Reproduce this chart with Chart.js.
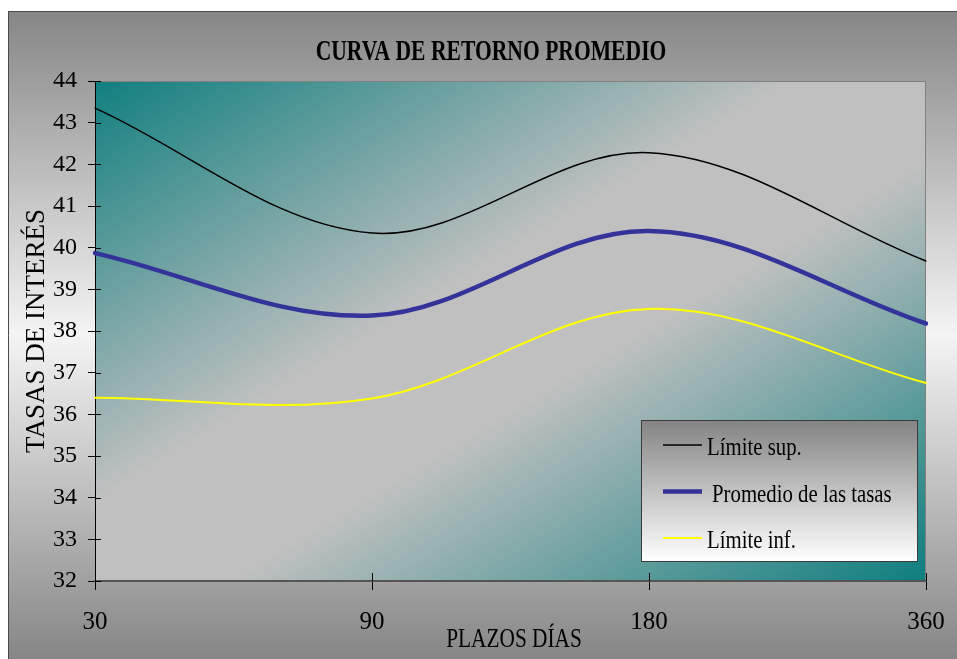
<!DOCTYPE html>
<html lang="es">
<head>
<meta charset="utf-8">
<title>Curva de retorno promedio</title>
<script src="https://cdn.jsdelivr.net/npm/chart.js@4.4.1/dist/chart.umd.min.js"></script>
<style>
  html, body { margin: 0; padding: 0; background: #fff; }
  canvas { display: block; }
</style>
</head>
<body>
<canvas id="curvaChart" width="957" height="659"></canvas>
<script>
// valores
const plazos = ['30', '90', '180', '360'];
const limiteSup = [43.35, 40.35, 42.28, 39.68];
const promedio = [39.87, 38.37, 40.4, 38.18];
const limiteInf = [36.4, 36.38, 38.53, 36.75];
const ticksY = { min: 32, max: 44, paso: 1 };

const SERIF = '"Liberation Serif", "Times New Roman", serif';

// fondo del marco y del área de trazado
const fondo = {
    id: 'fondo',
    beforeDraw(chart) {
        const { ctx, width, height, chartArea: a } = chart;
        ctx.save();
        ctx.fillStyle = '#fff';
        ctx.fillRect(0, 0, width, height);
        const g = ctx.createLinearGradient(0, 11, 0, height);
        g.addColorStop(0, '#868686');
        g.addColorStop(0.5, '#f4f4f4');
        g.addColorStop(1, '#868686');
        ctx.fillStyle = g;
        ctx.fillRect(8, 11, width - 8, height - 11);
        ctx.strokeStyle = '#4a4a4a';
        ctx.lineWidth = 1;
        ctx.beginPath();
        ctx.moveTo(8.5, height);
        ctx.lineTo(8.5, 11.5);
        ctx.lineTo(width, 11.5);
        ctx.stroke();

        ctx.save();
        ctx.translate(a.left, a.top);
        ctx.scale(a.right - a.left, a.bottom - a.top);
        const d = ctx.createLinearGradient(0, 0, 1, 1);
        d.addColorStop(0, '#117f7f');
        d.addColorStop(0.42, '#c0c0c0');
        d.addColorStop(0.58, '#c0c0c0');
        d.addColorStop(1, '#0e7e7e');
        ctx.fillStyle = d;
        ctx.fillRect(0, 0, 1, 1);
        ctx.restore();

        ctx.strokeStyle = '#808080';
        ctx.strokeRect(a.left + 0.5, a.top + 0.5, a.right - a.left - 1, a.bottom - a.top);
        ctx.restore();
    },
    beforeDatasetsDraw(chart) {
        // marcas de graduación hacia dentro
        const { ctx, chartArea: a, scales: { x, y } } = chart;
        ctx.save();
        ctx.strokeStyle = '#000';
        ctx.lineWidth = 1;
        ctx.beginPath();
        y.ticks.forEach((t, i) => {
            const py = Math.round(y.getPixelForTick(i)) + 0.5;
            ctx.moveTo(a.left, py);
            ctx.lineTo(a.left + 6, py);
        });
        x.ticks.forEach((t, i) => {
            const px = Math.round(x.getPixelForTick(i)) + 0.5;
            ctx.moveTo(px, a.bottom);
            ctx.lineTo(px, a.bottom - 8);
        });
        ctx.stroke();
        ctx.restore();
    }
};

// textos condensados (título y eje X) y leyenda con recuadro
const textos = {
    id: 'textos',
    afterDraw(chart) {
        const { ctx, chartArea: a } = chart;
        ctx.save();
        ctx.fillStyle = '#000';
        ctx.textBaseline = 'alphabetic';
        ctx.textAlign = 'center';

        ctx.save();
        ctx.translate(491, 60);
        ctx.scale(0.72, 1);
        ctx.font = 'bold 30px ' + SERIF;
        ctx.fillText('CURVA DE RETORNO PROMEDIO', 0, 0);
        ctx.restore();

        ctx.save();
        ctx.translate(514, 647);
        ctx.scale(0.79, 1);
        ctx.font = '27px ' + SERIF;
        ctx.fillText('PLAZOS DÍAS', 0, 0);
        ctx.restore();

        // leyenda
        const bw = 276, bh = 141;
        const bx = a.right - 9 - bw, by = a.bottom - 20 - bh;
        const lg = ctx.createLinearGradient(0, by, 0, by + bh);
        lg.addColorStop(0, '#838383');
        lg.addColorStop(1, '#ffffff');
        ctx.fillStyle = lg;
        ctx.fillRect(bx, by, bw, bh);
        ctx.strokeStyle = '#3c3c3c';
        ctx.lineWidth = 1;
        ctx.strokeRect(bx + 0.5, by + 0.5, bw, bh);

        ctx.textAlign = 'left';
        chart.data.datasets.forEach((ds, i) => {
            const ly = by + 25 + i * 46.5;
            ctx.strokeStyle = ds.borderColor;
            ctx.lineWidth = ds.borderWidth;
            ctx.beginPath();
            ctx.moveTo(bx + 22, ly);
            ctx.lineTo(bx + 61, ly);
            ctx.stroke();
            ctx.save();
            ctx.translate(bx + 66 + (ds.borderWidth > 3 ? 5 : 0), ly + 10);
            ctx.scale(0.8, 1);
            ctx.fillStyle = '#000';
            ctx.font = '26px ' + SERIF;
            ctx.fillText(ds.label, 0, 0);
            ctx.restore();
        });
        ctx.restore();
    }
};

const ctx = document.getElementById('curvaChart').getContext('2d');
new Chart(ctx, {
    type: 'line',
    data: {
        labels: plazos,
        datasets: [
            { label: 'Límite sup.', data: limiteSup, borderColor: '#000000', borderWidth: 1.5 },
            { label: 'Promedio de las tasas', data: promedio, borderColor: '#333399', borderWidth: 4.5 },
            { label: 'Límite inf.', data: limiteInf, borderColor: '#ffff00', borderWidth: 2 }
        ]
    },
    options: {
        responsive: false,
        animation: false,
        layout: { padding: { top: 81, right: 31, left: 0, bottom: 0 } },
        elements: {
            point: { radius: 0, hoverRadius: 0 },
            line: { tension: 0.35, fill: false, borderCapStyle: 'round' }
        },
        scales: {
            x: {
                type: 'category',
                offset: false,
                afterFit: s => { s.height = 78; s.paddingLeft = 0; s.paddingRight = 0; },
                grid: { drawOnChartArea: false, drawTicks: true, tickLength: 9, color: '#000' },
                border: { color: '#555', width: 2 },
                ticks: { color: '#000', padding: 17, maxRotation: 0, font: { family: SERIF, size: 25 } }
            },
            y: {
                min: ticksY.min,
                max: ticksY.max,
                afterFit: s => { s.width = 95; s.paddingTop = 0; s.paddingBottom = 0; },
                grid: { drawOnChartArea: false, drawTicks: true, tickLength: 7, color: '#000' },
                border: { color: '#000', width: 1 },
                ticks: { stepSize: ticksY.paso, color: '#000', padding: 11, font: { family: SERIF, size: 24 } },
                title: {
                    display: true,
                    text: 'TASAS DE INTERÉS',
                    color: '#000',
                    padding: { top: 21, bottom: 0 },
                    font: { family: SERIF, size: 27 }
                }
            }
        },
        plugins: {
            legend: { display: false },
            title: { display: false },
            tooltip: { enabled: false }
        }
    },
    plugins: [fondo, textos]
});
</script>
</body>
</html>
